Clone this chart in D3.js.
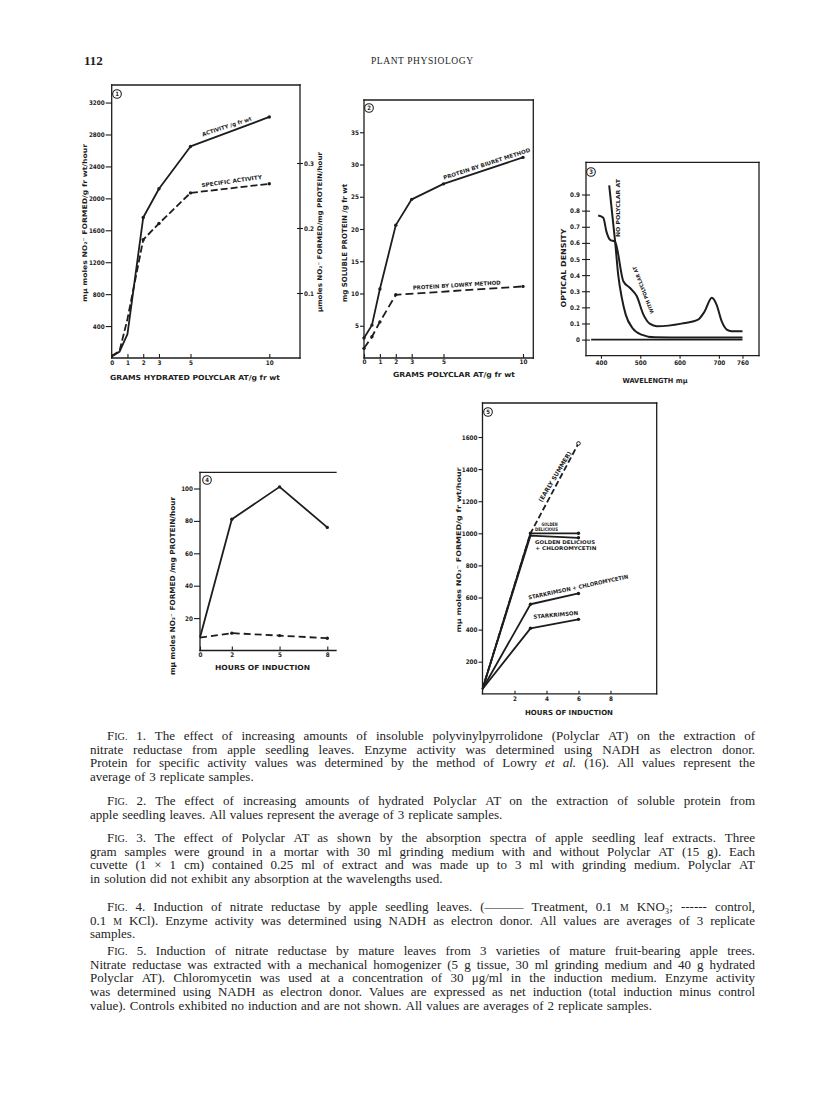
<!DOCTYPE html>
<html>
<head>
<meta charset="utf-8" />
<title>Plant Physiology 112</title>
<script src="https://cdn.jsdelivr.net/npm/d3@7"></script>
<style>
  body { margin: 0; background: #fff; }
</style>
</head>
<body>
<div id="chart"></div>
<script>
// ---- Fig. 1 : enzyme activity vs grams polyclar ----
var fig1Grams = [0, 0.5, 1, 2, 3, 5, 10];
var fig1Activity = [20, 80, 300, 1760, 2120, 2650, 3020];
var fig1Specific = [0.003, 0.011, 0.06, 0.182, 0.207, 0.254, 0.268];
var fig1XTicks = [0, 1, 2, 3, 5, 10];
var fig1YTicks = [400, 800, 1200, 1600, 2000, 2400, 2800, 3200];
var fig1RightTicks = [0.1, 0.2, 0.3];

// ---- Fig. 2 : soluble protein ----
var fig2Grams = [0, 0.5, 1, 2, 3, 5, 10];
var fig2Biuret = [3.1, 5.1, 10.7, 20.6, 24.6, 27.0, 31.1];
var fig2LowryGrams = [0, 0.5, 1, 2, 10];
var fig2Lowry = [1.5, 3.3, 5.6, 9.8, 11.1];
var fig2XTicks = [0, 1, 2, 3, 5, 10];
var fig2YTicks = [5, 10, 15, 20, 25, 30, 35];

// ---- Fig. 3 : absorption spectra ----
var fig3NoWl = [421, 436, 444, 453, 463, 480, 503, 537, 600, 700, 760];
var fig3NoOd = [0.957, 0.61, 0.40, 0.26, 0.155, 0.072, 0.031, 0.014, 0.013, 0.013, 0.013];
var fig3WithWl = [393, 406, 414, 423, 436, 457, 474, 491, 508, 525, 542, 605, 647, 664, 682, 694, 707, 720, 732, 760];
var fig3WithOd = [0.77, 0.756, 0.67, 0.62, 0.607, 0.362, 0.32, 0.27, 0.155, 0.097, 0.083, 0.099, 0.124, 0.176, 0.259, 0.217, 0.114, 0.062, 0.052, 0.052];
var fig3BaseWl = [375, 760];
var fig3BaseOd = [0, 0];
var fig3XTicks = [400, 500, 600, 700, 760];
var fig3YTicks = [0, 0.1, 0.2, 0.3, 0.4, 0.5, 0.6, 0.7, 0.8, 0.9];

// ---- Fig. 4 : induction in seedling leaves ----
var fig4Hours = [0, 2, 5, 8];
var fig4Treatment = [8, 81, 101, 76];
var fig4Control = [8, 10.7, 9.2, 7.6];
var fig4XTicks = [0, 2, 5, 8];
var fig4YTicks = [20, 40, 60, 80, 100];

// ---- Fig. 5 : induction in mature leaves ----
var fig5Hours = [0, 3, 6];
var fig5EarlySummer = [30, 1000, 1560];
var fig5Golden = [30, 1000, 1000];
var fig5GoldenChloro = [30, 985, 972];
var fig5StarkChloro = [30, 558, 625];
var fig5Stark = [30, 408, 464];
var fig5XTicks = [2, 4, 6, 8];
var fig5YTicks = [200, 400, 600, 800, 1000, 1200, 1400, 1600];

// ---- captions ----
var cap1 = [
  "~Fig. 1. The effect of increasing amounts of insoluble polyvinylpyrrolidone (Polyclar AT) on the extraction of",
  "nitrate reductase from apple seedling leaves. Enzyme activity was determined using NADH as electron donor.",
  "Protein for specific activity values was determined by the method of Lowry _et _al. (16). All values represent the",
  "average of 3 replicate samples."];
var cap2 = [
  "~Fig. 2. The effect of increasing amounts of hydrated Polyclar AT on the extraction of soluble protein from",
  "apple seedling leaves. All values represent the average of 3 replicate samples."];
var cap3 = [
  "~Fig. 3. The effect of Polyclar AT as shown by the absorption spectra of apple seedling leaf extracts. Three",
  "gram samples were ground in a mortar with 30 ml grinding medium with and without Polyclar AT (15 g). Each",
  "cuvette (1 × 1 cm) contained 0.25 ml of extract and was made up to 3 ml with grinding medium. Polyclar AT",
  "in solution did not exhibit any absorption at the wavelengths used."];
var cap4 = [
  "~Fig. 4. Induction of nitrate reductase by apple seedling leaves. (——— Treatment, 0.1 ^M KNO₃; ------ control,",
  "0.1 ^M KCl). Enzyme activity was determined using NADH as electron donor. All values are averages of 3 replicate",
  "samples."];
var cap5 = [
  "~Fig. 5. Induction of nitrate reductase by mature leaves from 3 varieties of mature fruit-bearing apple trees.",
  "Nitrate reductase was extracted with a mechanical homogenizer (5 g tissue, 30 ml grinding medium and 40 g hydrated",
  "Polyclar AT). Chloromycetin was used at a concentration of 30 μg/ml in the induction medium. Enzyme activity",
  "was determined using NADH as electron donor. Values are expressed as net induction (total induction minus control",
  "value). Controls exhibited no induction and are not shown. All values are averages of 2 replicate samples."];

var FIGFONT = '"DejaVu Sans Condensed","Liberation Sans Narrow","Liberation Sans",Arial,sans-serif';
var SERIF = '"Liberation Serif","DejaVu Serif",serif';
var ink = "#1d1d1d";
var plain = d3.format("d");

var svg = d3.select("#chart").append("svg").attr("width", 816).attr("height", 1115);
svg.append("rect").attr("width", 816).attr("height", 1115).attr("fill", "#fff");

function frame(g, x0, y0, x1, y1, sides) {
  var segs = [];
  if (sides.indexOf("l") >= 0) segs.push([x0, y0, x0, y1]);
  if (sides.indexOf("r") >= 0) segs.push([x1, y0, x1, y1]);
  if (sides.indexOf("t") >= 0) segs.push([x0, y0, x1, y0]);
  if (sides.indexOf("b") >= 0) segs.push([x0, y1, x1, y1]);
  g.selectAll(null).data(segs).enter().append("line")
    .attr("x1", function(d) { return d[0]; }).attr("y1", function(d) { return d[1]; })
    .attr("x2", function(d) { return d[2]; }).attr("y2", function(d) { return d[3]; })
    .attr("stroke", ink).attr("stroke-width", 1.3).attr("stroke-linecap", "square");
}

function series(g, xs, ys, sx, sy, opt) {
  var pts = xs.map(function(v, i) { return [v, ys[i]]; });
  var ln = d3.line().x(function(d) { return sx(d[0]); }).y(function(d) { return sy(d[1]); })
    .curve(opt.curve || d3.curveLinear);
  g.append("path").datum(pts).attr("d", ln).attr("fill", "none").attr("stroke", ink)
    .attr("stroke-width", opt.w || 1.8).attr("stroke-dasharray", opt.dash || null)
    .attr("stroke-linejoin", "round");
  if (opt.dots) {
    g.selectAll(null).data(pts.slice(opt.dotFrom || 0)).enter().append("circle")
      .attr("cx", function(d) { return sx(d[0]); }).attr("cy", function(d) { return sy(d[1]); })
      .attr("r", 1.7).attr("fill", ink);
  }
}

function axis(g, gen, tx, ty, fs) {
  var a = g.append("g").attr("transform", "translate(" + tx + "," + ty + ")").call(gen);
  a.select(".domain").remove();
  a.attr("font-family", FIGFONT).attr("font-size", fs).attr("font-weight", "bold");
  a.selectAll(".tick line").attr("stroke", ink).attr("stroke-width", 1.1);
  a.selectAll(".tick text").attr("fill", ink);
  return a;
}

function note(g, text, x, y, fs, len, rot) {
  var t = g.append("text")
    .attr("transform", "translate(" + x + "," + y + ") rotate(" + (rot || 0) + ")")
    .attr("text-anchor", "middle").attr("dy", "0.35em")
    .attr("font-family", FIGFONT).attr("font-weight", "bold").attr("font-size", fs)
    .attr("fill", ink).text(text);
  if (len) t.attr("textLength", len).attr("lengthAdjust", "spacingAndGlyphs");
  return t;
}

function badge(g, x, y, n) {
  g.append("circle").attr("cx", x).attr("cy", y).attr("r", 4.3)
    .attr("fill", "none").attr("stroke", ink).attr("stroke-width", 1.1);
  note(g, n, x, y, 6);
}

// ================= Fig. 1 =================
var g1 = svg.append("g");
var x1 = d3.scaleLinear().domain([0, 10]).range([111.7, 269.3]);
var y1 = d3.scaleLinear().domain([0, 3420]).range([358, 85]);
var y1r = d3.scaleLinear().domain([0, 0.42]).range([358, 85]);
frame(g1, 111.7, 85, 300, 358, "ltrb");
axis(g1, d3.axisLeft(y1).tickValues(fig1YTicks).tickSize(6).tickPadding(1).tickFormat(plain), 111.7, 0, 6.3);
var r1 = axis(g1, d3.axisRight(y1r).tickValues(fig1RightTicks).tickSize(3).tickPadding(1)
  .tickFormat(d3.format(".1f")), 300, 0, 6.3);
r1.selectAll(".tick line").attr("x1", -3);
axis(g1, d3.axisBottom(x1).tickValues(fig1XTicks).tickSize(-4).tickPadding(3), 0, 358, 6.3);
series(g1, fig1Grams, fig1Activity, x1, y1, { dots: true, dotFrom: 3 });
series(g1, fig1Grams, fig1Specific, x1, y1r, { dash: "7,3", dots: true, dotFrom: 3 });
note(g1, "ACTIVITY /g fr wt", x1(7.3), y1(2900), 5.5, 52, -18);
note(g1, "SPECIFIC ACTIVITY", x1(7.61), y1(2215), 5.5, 61, -8);
note(g1, "GRAMS HYDRATED POLYCLAR AT/g fr wt", 195, 378, 7, 170);
note(g1, "mμ moles NO₂⁻ FORMED/g fr wt/hour", 85, 223, 6.5, 158, -90);
note(g1, "μmoles NO₂⁻ FORMED/mg PROTEIN/hour", 320, 232, 6.5, 160, -90);
badge(g1, 117, 94, "1");

// ================= Fig. 2 =================
var g2 = svg.append("g");
var x2 = d3.scaleLinear().domain([0, 10]).range([364, 523]);
var y2 = d3.scaleLinear().domain([0, 40]).range([358, 100]);
frame(g2, 364, 100, 533.3, 358, "ltrb");
axis(g2, d3.axisLeft(y2).tickValues(fig2YTicks).tickSize(4).tickPadding(1), 364, 0, 6.3);
axis(g2, d3.axisBottom(x2).tickValues(fig2XTicks).tickSize(-4).tickPadding(2), 0, 358, 6.3);
series(g2, fig2Grams, fig2Biuret, x2, y2, { dots: true });
series(g2, fig2LowryGrams, fig2Lowry, x2, y2, { dash: "8,4", dots: true });
note(g2, "PROTEIN BY BIURET METHOD", x2(7.72), y2(30.1), 5.5, 91, -18);
note(g2, "PROTEIN BY LOWRY METHOD", x2(5.83), y2(11.3), 5.5, 88, -3.5);
note(g2, "GRAMS POLYCLAR AT/g fr wt", 454, 375, 7, 122);
note(g2, "mg SOLUBLE PROTEIN /g fr wt", 345, 243, 7, 118, -90);
badge(g2, 369, 108, "2");

// ================= Fig. 3 =================
var g3 = svg.append("g");
var x3 = d3.scaleLinear().domain([362, 802]).range([586, 759]);
var y3 = d3.scaleLinear().domain([-0.1, 1.1]).range([355.7, 162.3]);
frame(g3, 586, 162.3, 759, 355.7, "ltrb");
var l3 = axis(g3, d3.axisLeft(y3).tickValues(fig3YTicks).tickSize(4).tickPadding(2)
  .tickFormat(function(d) { return d === 0 ? "0" : d.toFixed(1); }), 586, 0, 6.3);
l3.selectAll(".tick line").attr("x1", 4);
axis(g3, d3.axisBottom(x3).tickValues(fig3XTicks).tickSize(3).tickPadding(2), 0, 355.7, 6.3);
series(g3, fig3BaseWl, fig3BaseOd, x3, y3, { w: 1.6 });
series(g3, fig3NoWl, fig3NoOd, x3, y3, { curve: d3.curveMonotoneX, w: 2 });
series(g3, fig3WithWl, fig3WithOd, x3, y3, { curve: d3.curveMonotoneX, w: 2 });
note(g3, "NO POLYCLAR AT", x3(444), y3(0.816), 5.5, 58, -90);
note(g3, "WITH POLYCLAR AT", x3(507.7), y3(0.308), 5, 50, -111);
note(g3, "WAVELENGTH  mμ", 655, 381, 7, 65);
note(g3, "OPTICAL DENSITY", 564, 268, 7, 79, -90);
badge(g3, 591, 172, "3");

// ================= Fig. 4 =================
var g4 = svg.append("g");
var x4 = d3.scaleLinear().domain([0, 8]).range([200, 327.3]);
var y4 = d3.scaleLinear().domain([0, 110]).range([650.5, 472.3]);
frame(g4, 200, 472.3, 336, 650.5, "ltb");
axis(g4, d3.axisLeft(y4).tickValues(fig4YTicks).tickSize(6).tickPadding(1), 200, 0, 6.3);
axis(g4, d3.axisBottom(x4).tickValues(fig4XTicks).tickSize(-4).tickPadding(2), 0, 650.5, 6.3);
series(g4, fig4Hours, fig4Treatment, x4, y4, { dots: true, dotFrom: 1 });
series(g4, fig4Hours, fig4Control, x4, y4, { dash: "7,4", dots: true, dotFrom: 1 });
note(g4, "HOURS OF INDUCTION", 262.5, 668, 7, 95);
note(g4, "mμ moles NO₂⁻ FORMED /mg PROTEIN/hour", 173, 586, 7, 178, -90);
badge(g4, 207, 480, "4");

// ================= Fig. 5 =================
var g5 = svg.append("g");
var x5 = d3.scaleLinear().domain([0, 10.89]).range([482.5, 656.7]);
var y5 = d3.scaleLinear().domain([0, 1812]).range([693.8, 403]);
frame(g5, 482.5, 403, 656.7, 693.8, "ltrb");
axis(g5, d3.axisLeft(y5).tickValues(fig5YTicks).tickSize(4).tickPadding(1).tickFormat(plain), 482.5, 0, 6.3);
axis(g5, d3.axisBottom(x5).tickValues(fig5XTicks).tickSize(-3).tickPadding(3), 0, 693.8, 6.3);
series(g5, fig5Hours, fig5Golden, x5, y5, { dots: true, dotFrom: 1 });
series(g5, fig5Hours, fig5GoldenChloro, x5, y5, { dots: true, dotFrom: 2 });
series(g5, fig5Hours, fig5StarkChloro, x5, y5, { dots: true, dotFrom: 1 });
series(g5, fig5Hours, fig5Stark, x5, y5, { dots: true, dotFrom: 1 });
series(g5, fig5Hours, fig5EarlySummer, x5, y5, { dash: "6,3" });
g5.append("circle").attr("cx", x5(6)).attr("cy", y5(1560)).attr("r", 1.8)
  .attr("fill", "#fff").attr("stroke", ink).attr("stroke-width", 1);
note(g5, "(EARLY SUMMER)", x5(4.53), y5(1353), 6, 58, -59);
note(g5, "GOLDEN", x5(4.19), y5(1056), 4.8, 16);
note(g5, "DELICIOUS", x5(4.0), y5(1027), 4.8, 23);
note(g5, "GOLDEN DELICIOUS", x5(5.16), y5(944), 5, 60);
note(g5, "+ CHLOROMYCETIN", x5(5.21), y5(907), 5, 61);
note(g5, "STARKRIMSON + CHLOROMYCETIN", x5(5.99), y5(665), 5.5, 102, -12);
note(g5, "STARKRIMSON", x5(4.58), y5(492), 5.5, 45, -5);
note(g5, "HOURS OF INDUCTION", 569, 713, 7, 88);
note(g5, "mμ moles NO₂⁻ FORMED/g fr wt/hour", 459, 550, 6.5, 165, -90);
badge(g5, 488, 412, "5");

// ================= page header =================
svg.append("text").attr("x", 84).attr("y", 65).attr("font-family", SERIF)
  .attr("font-size", 13).attr("font-weight", "bold").attr("fill", ink).text("112");
svg.append("text").attr("x", 422).attr("y", 64).attr("text-anchor", "middle")
  .attr("font-family", SERIF).attr("font-size", 9.5).attr("fill", ink)
  .attr("textLength", 102).attr("lengthAdjust", "spacing").text("PLANT PHYSIOLOGY");

// ================= captions =================
var capG = svg.append("g").attr("font-family", SERIF).attr("font-size", 13).attr("fill", "#222");
var TEXT_L = 90, TEXT_R = 755, INDENT = 107, LEAD = 13.7;

function addWord(t, w) {
  var s = t.append("tspan");
  if (w.charAt(0) === "~") {
    var b = w.slice(1);
    s.append("tspan").text(b.charAt(0));
    s.append("tspan").attr("font-size", "0.78em").text(b.slice(1).toUpperCase());
  } else if (w.charAt(0) === "_") {
    s.attr("font-style", "italic").text(w.slice(1));
  } else if (w.charAt(0) === "^") {
    s.attr("font-size", "0.75em").text(w.slice(1));
  } else {
    s.text(w);
  }
  return s;
}

function paragraph(lines, y0) {
  lines.forEach(function(str, li) {
    var x0 = li === 0 ? INDENT : TEXT_L;
    var t = capG.append("text").attr("y", y0 + li * LEAD);
    var spans = str.split(" ").map(function(w) { return addWord(t, w); });
    var widths = spans.map(function(s) { return s.node().getComputedTextLength(); });
    var sum = d3.sum(widths);
    var last = li === lines.length - 1;
    var gap = last ? 4 : Math.max(2, (TEXT_R - x0 - sum) / (spans.length - 1));
    var x = x0;
    spans.forEach(function(s, i) { s.attr("x", x); x += widths[i] + gap; });
  });
}

paragraph(cap1, 740);
paragraph(cap2, 805);
paragraph(cap3, 842);
paragraph(cap4, 911);
paragraph(cap5, 955);
</script>
</body>
</html>
